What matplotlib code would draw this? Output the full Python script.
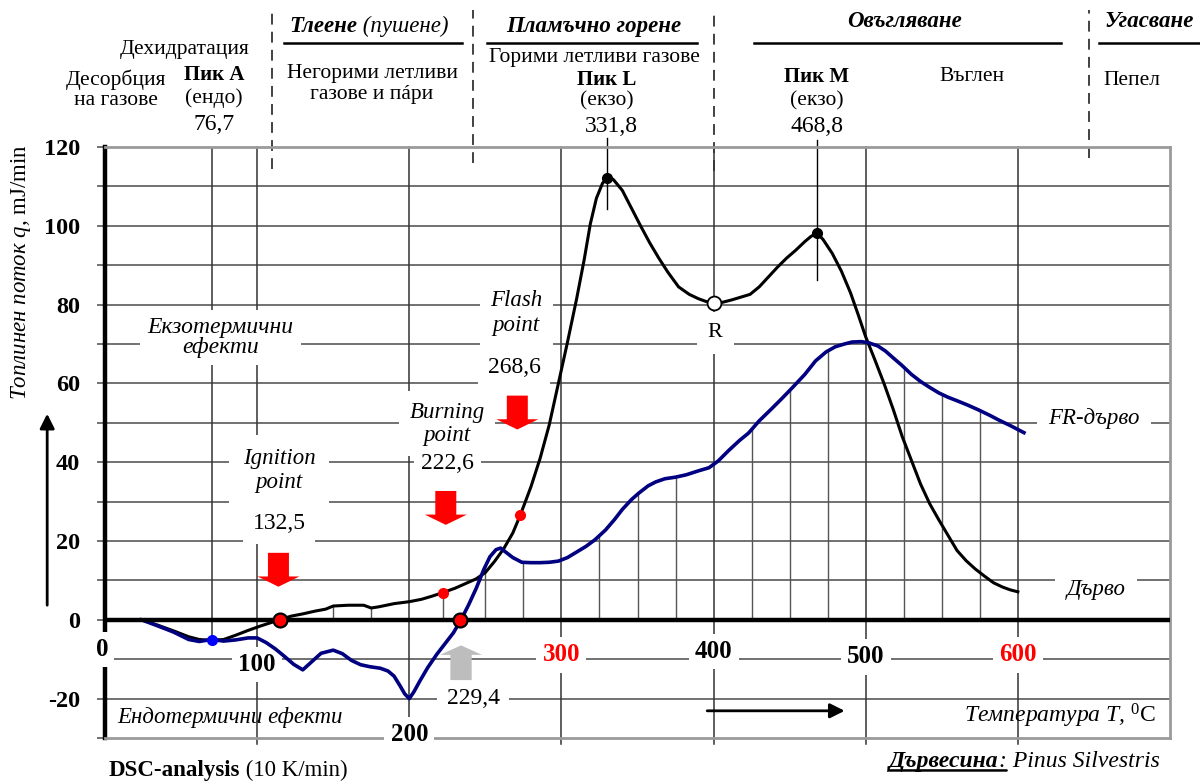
import numpy as np
import matplotlib
matplotlib.use("Agg")
import matplotlib.pyplot as plt
from matplotlib.patches import FancyArrow

plt.rcParams.update({
    "font.family": "Liberation Serif",
    "mathtext.fontset": "custom",
    "mathtext.rm": "Liberation Serif",
    "mathtext.it": "Liberation Serif:italic",
    "mathtext.bf": "Liberation Serif:bold",
})

# --- data -------------------------------------------------------------
# Дърво (black curve)
T_WOOD = [24, 35, 45, 55, 62, 70, 78, 86, 94, 102,
          110, 115, 122, 130, 138, 145, 150, 160, 170, 175,
          180, 190, 200, 208, 215, 222, 230, 237, 244, 250,
          256, 262, 268, 273, 280, 286, 292, 298, 304, 310,
          315, 319, 323, 327, 330, 334, 340, 346, 352, 358,
          364, 370, 377, 384, 390, 395, 400, 406, 412, 418,
          424, 430, 436, 442, 448, 454, 460, 464, 468, 472,
          478, 484, 490, 495, 500, 506, 512, 518, 524, 530,
          536, 542, 548, 554, 560, 566, 572, 578, 584, 590,
          595, 600]
Q_WOOD = [0, -1.4, -2.8, -4.3, -5.0, -5.2, -5.0, -3.9, -2.7, -1.6,
          -0.6, 0.0, 0.9, 1.5, 2.2, 2.7, 3.5, 3.7, 3.7, 3.0,
          3.3, 4.1, 4.6, 5.2, 6.0, 6.9, 8.0, 9.2, 10.4, 12.0,
          14.8, 18.0, 22.0, 26.6, 33.8, 41.0, 49.5, 60.0, 70.5, 81.5,
          91.5, 100.5, 107.0, 110.8, 112.2, 111.8, 109.0, 104.5, 100.0, 95.7,
          91.8, 88.2, 84.5, 82.6, 81.5, 80.8, 80.3, 80.6, 81.2, 81.9,
          82.6, 84.5, 87.0, 89.5, 91.8, 93.8, 96.0, 97.3, 98.2, 96.5,
          93.0, 88.5, 83.0, 77.5, 71.8, 66.0, 60.0, 53.5, 46.5, 40.5,
          34.5, 29.5, 25.4, 21.5, 17.6, 15.0, 12.9, 11.1, 9.4, 8.3,
          7.6, 7.1]

# FR-дърво (blue curve)
T_FR = [24, 35, 45, 55, 62, 70, 78, 86, 94, 100,
        106, 112, 118, 124, 130, 136, 142, 150, 156, 162,
        168, 174, 181, 186, 190, 194, 197, 200, 203, 207,
        212, 218, 224, 229, 234, 239, 244, 249, 253, 257,
        260, 264, 268, 274, 280, 286, 292, 298, 304, 310,
        316, 322, 329, 335, 340, 346, 351, 357, 362, 368,
        375, 382, 390, 397, 403, 410, 417, 423, 430, 438,
        445, 452, 460, 467, 474, 480, 486, 491, 497, 502,
        508, 513, 518, 524, 530, 536, 542, 548, 554, 560,
        567, 574, 581, 588, 595, 604]
Q_FR = [0, -1.6, -3.1, -5.0, -5.5, -5.0, -5.4, -5.1, -4.6, -4.6,
        -5.8, -7.4, -9.3, -11.3, -12.7, -10.6, -8.5, -7.7, -8.6, -10.3,
        -11.4, -11.9, -12.3, -13.0, -14.3, -16.8, -18.8, -20.0, -18.3, -15.5,
        -12.2, -8.8, -5.8, -3.3, 0.0, 3.8, 8.0, 12.8, 16.0, 17.8,
        18.2, 17.0, 15.8, 14.6, 14.5, 14.5, 14.6, 14.9, 15.8, 17.2,
        18.6, 20.3, 22.8, 25.5, 28.0, 30.5, 32.2, 34.0, 35.0, 35.8,
        36.2, 36.8, 37.8, 38.6, 40.3, 43.0, 45.5, 47.4, 50.5, 53.5,
        56.2, 59.0, 62.3, 65.7, 68.0, 69.3, 70.0, 70.5, 70.6, 70.3,
        69.5, 68.2, 66.5, 64.5, 62.3, 60.5, 59.0, 57.6, 56.5, 55.6,
        54.5, 53.3, 52.0, 50.6, 49.3, 47.5]

assert len(T_WOOD) == len(Q_WOOD) and len(T_FR) == len(Q_FR)

X_TICKS = [0, 100, 200, 300, 400, 500, 600]
X_TICK_COLORS = ["black", "black", "black", "red", "black", "black", "red"]
Y_TICKS = list(range(-30, 121, 10))

# characteristic temperatures (as drawn)
PEAK_A_T = 70
ZERO_CROSS_T = [115, 233.5]          # ignition / FR-wood crossings
WOOD_DOT_T = [222, 273]              # burning / flash points on the curve
R_T = 400
ARROW_T = [114, 224, 271]            # red arrows
GRAY_ARROW_T = 234
DROP_T = [150, 175, 222, 250, 275, 325, 350, 375, 425, 450, 475, 525, 550, 575]
PHASE_BOUNDS = [110, 242, 400, 647]

BLUE = "#000080"
GRID = "#4a4a4a"
FS = 15.5

fig = plt.figure(figsize=(12, 7.83), dpi=100)
ax = fig.add_axes([105 / 1200, 1 - 738 / 783, 1065 / 1200, 591 / 783])
ax.set_xlim(0, 700)
ax.set_ylim(-30, 120)

# frame
for side in ("top", "right", "bottom"):
    ax.spines[side].set_color("#9a9a9a")
    ax.spines[side].set_linewidth(2)
ax.spines["left"].set_linewidth(3.2)
ax.spines["left"].set_color("black")

ax.set_xticks([])
ax.set_yticks(Y_TICKS, [str(v) if v % 20 == 0 and v > -30 else "" for v in Y_TICKS])
ax.tick_params(axis="y", length=6, width=1.1, color=GRID, pad=12, labelsize=17.5)
for lbl in ax.get_yticklabels():
    lbl.set_fontweight("bold")

# grid
for y in Y_TICKS[1:-1]:
    if y != 0:
        ax.axhline(y, color=GRID, lw=1.1, zorder=1)
ax.axhline(0, color="black", lw=3.2, zorder=5)
for x in X_TICKS[1:]:
    ax.plot([x, x], [-31.5, 120], color="#333333", lw=1.1, zorder=1, clip_on=False)

t_w, q_w = np.array(T_WOOD), np.array(Q_WOOD)
t_f, q_f = np.array(T_FR), np.array(Q_FR)

# drop lines from the axis to the curves
for t in DROP_T:
    qb = np.interp(t, t_f, q_f)
    top = qb if qb > 0 else np.interp(t, t_w, q_w)
    ax.plot([t, t], [0, top], color="#555555", lw=1.0, zorder=1)

# peak marker lines
qa = np.interp(PEAK_A_T, t_f, q_f)
ax.plot([PEAK_A_T, PEAK_A_T], [qa, 120], color="#333333", lw=1.1, zorder=1)
i_l = int(np.argmax(q_w))
mask = (t_w > 420) & (t_w < 520)
i_m = np.where(mask)[0][np.argmax(q_w[mask])]
ax.plot([t_w[i_l]] * 2, [q_w[i_l] - 8, 122.3], color="black", lw=1, zorder=2, clip_on=False)
ax.plot([t_w[i_m]] * 2, [q_w[i_m] - 12, 121.8], color="black", lw=1, zorder=2, clip_on=False)

# phase boundaries (dashed, above the plot)
for x, y0 in zip(PHASE_BOUNDS, [114.5, 116, 114, 117.3]):
    ax.plot([x, x], [y0, 154.8], color="#333333", lw=1.3, ls=(0, (6, 4)), clip_on=False, zorder=2)

# curves
ax.plot(t_w, q_w, color="black", lw=2.2, zorder=4)
ax.plot(t_f, q_f, color=BLUE, lw=2.6, zorder=4)

# markers
ax.plot(PEAK_A_T, qa, "o", color="#0000ff", ms=7, zorder=6)
ax.plot(ZERO_CROSS_T, [0] * len(ZERO_CROSS_T), "o", mfc="red", mec="black", mew=1.6, ms=10, zorder=7)
ax.plot(WOOD_DOT_T, np.interp(WOOD_DOT_T, t_w, q_w), "o", color="red", ms=7, zorder=6)
ax.plot([t_w[i_l], t_w[i_m]], [q_w[i_l], q_w[i_m]], "o", color="black", ms=7, zorder=6)
ax.plot(R_T, np.interp(R_T, t_w, q_w), "o", mfc="white", mec="black", mew=1.3, ms=10, zorder=6)

# red arrows (down) and gray arrow (up)
for t, top in zip(ARROW_T, [17, 32.7, 56.9]):
    ax.add_patch(FancyArrow(t, top, 0, -8.6, width=13.8, head_width=27.6, head_length=2.6,
                            length_includes_head=True, color="red", lw=0, zorder=6))
ax.add_patch(FancyArrow(GRAY_ARROW_T, -15.3, 0, 8.8, width=14, head_width=27.6, head_length=2.4,
                        length_includes_head=True, color="#bdbdbd", lw=0, zorder=6))


def label(x, y, s, size=FS, box=True, pad=0.35, **kw):
    bb = dict(boxstyle=f"square,pad={pad}", facecolor="white", edgecolor="none") if box else None
    return ax.text(x, y, s, ha=kw.pop("ha", "center"), va=kw.pop("va", "center"),
                   fontsize=size, bbox=bb, zorder=3, clip_on=False, **kw)


def chain(x, y, parts, size=FS):
    s0, st0 = parts[0]
    t = ax.text(x, y, s0, ha="left", va="center", fontsize=size, clip_on=False, zorder=3, **st0)
    out = [t]
    for s, st in parts[1:]:
        t = ax.annotate(s, xy=(1, 0), xycoords=t, ha="left", va="bottom", fontsize=size,
                        annotation_clip=False, zorder=3, **st)
        out.append(t)
    return out


# x tick labels
for x, c, y in zip(X_TICKS, X_TICK_COLORS, [-7.6, -11.4, -29.2, -8.9, -8.1, -9.4, -8.9]):
    label(x - (2 if x == 0 else 0), y, str(x), size=18, fontweight="bold", color=c, pad=0.25)

# in-plot labels
label(76, 71.7, "Екзотермични\nефекти", size=17, style="italic", linespacing=0.9, pad=0.3)
label(114.4, 37.8, "Ignition\npoint", size=16.5, style="italic", linespacing=1.2, pad=0.6)
label(114.4, 24.4, "132,5", size=17, pad=0.4)
label(224.9, 49.7, "Burning\npoint", size=16.5, style="italic", linespacing=1.15, pad=0.45)
label(224.9, 39.6, "222,6", size=17, pad=0.3)
label(270.2, 77.8, "Flash\npoint", size=16.5, style="italic", linespacing=1.25, pad=0.45)
label(269, 64, "268,6", size=17, pad=0.4)
label(401, 72.8, "R", size=16, pad=0.5)
label(242, -20, "229,4", size=17, pad=0.4)
label(8, -24.9, "Ендотермични ефекти", size=16.5, style="italic", ha="left", box=False)
label(650, 51, "FR-дърво", size=16.5, style="italic", pad=0.5)
label(651.5, 7.6, "Дърво", size=16.5, style="italic", pad=0.5)
label(564.8, -24.4, "Температура $T$, $^{0}\\mathrm{C}$", size=17, style="italic", ha="left", box=False)

# direction arrows
ax.annotate("", xy=(488, -23.1), xytext=(394, -23.1),
            arrowprops=dict(arrowstyle="-|>", color="black", lw=2, mutation_scale=22), zorder=6)
ax.annotate("", xy=(-38, 53), xytext=(-38, 3), annotation_clip=False,
            arrowprops=dict(arrowstyle="-|>", color="black", lw=2, mutation_scale=22))

# y label
ax.text(-55, 55.8, "Топлинен поток $q$, $\\mathrm{mJ/min}$", rotation=90, ha="center", va="bottom",
        fontsize=16.5, style="italic", clip_on=False)

# header above the plot
chain(121, 150.5, [("Тлеене", dict(weight="bold", style="italic")), (" (пушене)", dict(style="italic"))], size=16.5)
label(175.5, 136, "Негорими летливи\nгазове и пáри", box=False, linespacing=1.1)
label(321.5, 150.5, "Пламъчно горене", size=16.5, box=False, weight="bold", style="italic")
label(322, 142.6, "Горими летливи газове", box=False)
label(330, 137, "Пик L", size=15, box=False, weight="bold")
label(330, 131.7, "(екзо)", box=False)
label(332.7, 125.1, "331,8", size=17, box=False)
label(525.3, 151.8, "Овъгляване", size=16.5, box=False, weight="bold", style="italic")
label(468, 137.8, "Пик M", size=15, box=False, weight="bold")
label(468, 131.7, "(екзо)", box=False)
label(468, 125.1, "468,8", size=17, box=False)
label(570, 137.8, "Въглен", box=False)
label(686.4, 151.8, "Угасване", size=16.5, box=False, weight="bold", style="italic")
label(675, 137, "Пепел", box=False)
label(52.6, 144.7, "Дехидратация", box=False)
label(7.2, 134.5, "Десорбция\nна газове", box=False, linespacing=1.1)
label(71.7, 138.3, "Пик А", size=15, box=False, weight="bold")
label(71.7, 132.5, "(ендо)", box=False)
label(71.7, 125.6, "76,7", size=17, box=False)

for x0, x1 in [(117.7, 234.7), (251, 389), (426.7, 628.5), (653.5, 720)]:
    ax.plot([x0, x1], [146.4, 146.4], color="black", lw=1.8, clip_on=False)

# footer
chain(2.6, -38.3, [("DSC-analysis", dict(weight="bold")), (" (10 K/min)", {})], size=16.5)
parts = chain(515.4, -36, [("Дървесина", dict(weight="bold", style="italic")), (":", dict(style="italic")),
                           (" Pinus Silvestris", dict(style="italic"))], size=17)
ax.annotate("", xy=(0, 0.08), xycoords=parts[0], xytext=(1, 0.08), textcoords=parts[1],
            arrowprops=dict(arrowstyle="-", lw=1.8, color="black", shrinkA=0, shrinkB=0),
            annotation_clip=False)

fig.savefig("out.png", dpi=100)
